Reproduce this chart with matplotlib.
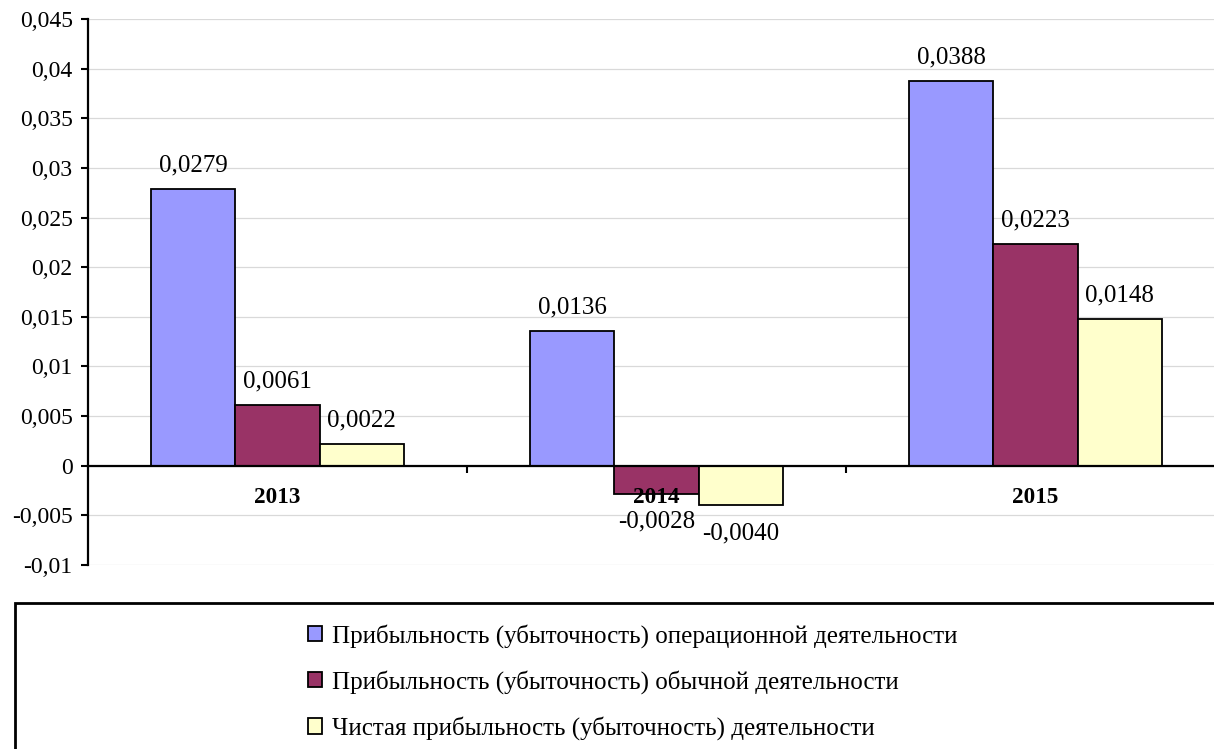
import numpy as np
import matplotlib
matplotlib.use("Agg")
import matplotlib.pyplot as plt
from matplotlib.patches import Rectangle
from matplotlib.ticker import MultipleLocator, FixedLocator, FuncFormatter

plt.rcParams["font.family"] = "Liberation Serif"

# Data
years = ["2013", "2014", "2015"]
series_names = [
    "Прибыльность (убыточность) операционной деятельности",
    "Прибыльность (убыточность) обычной деятельности",
    "Чистая прибыльность (убыточность) деятельности",
]
operational = [0.0279, 0.0136, 0.0388]
ordinary = [0.0061, -0.0028, 0.0223]
net = [0.0022, -0.0040, 0.0148]
colors = ["#9999FF", "#993366", "#FFFFCC"]

W, H = 1214, 749
fig = plt.figure(figsize=(W / 100, H / 100), dpi=100)

# axes placed in pixel terms (right edge runs slightly past the image)
ax = fig.add_axes([88 / W, 1 - 565 / H, (1225 - 88) / W, (565 - 19) / H])

x = np.arange(len(years))
bw = 0.222
for i, (vals, name, col) in enumerate(zip([operational, ordinary, net], series_names, colors)):
    pos = x + (i - 1) * bw
    bars = ax.bar(pos, vals, width=bw, color=col, edgecolor="black",
                  linewidth=1.3, label=name, zorder=2)
    for b, v in zip(bars, vals):
        txt = f"{v:.4f}".replace(".", ",")
        if v >= 0:
            ax.annotate(txt, (b.get_x() + b.get_width() / 2, v), xytext=(0, 9),
                        textcoords="offset points", ha="center", va="bottom",
                        fontsize=18)
        else:
            ax.annotate(txt, (b.get_x() + b.get_width() / 2, v), xytext=(0, -12),
                        textcoords="offset points", ha="center", va="top",
                        fontsize=18)

ax.set_xlim(-0.5, 2.5)
ax.set_ylim(-0.01, 0.045)
ax.yaxis.set_major_locator(MultipleLocator(0.005))
ax.yaxis.set_major_formatter(FuncFormatter(
    lambda v, p: "0" if abs(v) < 1e-12 else f"{v:.3f}".rstrip("0").replace(".", ",")))
ax.set_axisbelow(True)
ax.grid(axis="y", color="#D9D9D9", linewidth=0.9)
# category labels sit on top of the bars (2014 overlaps the negative bar)
ax.xaxis.set_zorder(5)

ax.spines["top"].set_visible(False)
ax.spines["right"].set_visible(False)
ax.spines["left"].set_linewidth(1.6)
ax.spines["bottom"].set_position(("data", 0))
ax.spines["bottom"].set_linewidth(1.6)
ax.spines["bottom"].set_zorder(4)

ax.set_xticks(x)
ax.set_xticklabels(years, fontweight="bold", fontsize=16.7)
ax.xaxis.set_minor_locator(FixedLocator([0.5, 1.5, 2.5]))
ax.tick_params(axis="x", which="major", length=0, pad=15)
ax.tick_params(axis="x", which="minor", length=5, width=1.5, direction="out")
ax.tick_params(axis="y", length=5, width=1.5, direction="out", pad=6, labelsize=17)

# legend box, running off the right and bottom edges like the source
fig.patches.append(Rectangle((15 / W, -0.2), 1.3, 1 - 603 / H + 0.2,
                             transform=fig.transFigure, facecolor="white",
                             edgecolor="black", linewidth=2, zorder=0))

handles, labels = ax.get_legend_handles_labels()
fig.legend(handles, labels, loc="upper left", bbox_to_anchor=(308 / W, 1 - 624 / H),
           frameon=False, fontsize=18, handlelength=0.55, handleheight=0.55,
           handletextpad=0.4, labelspacing=0.89, borderaxespad=0, borderpad=0)

fig.savefig("out.png", dpi=100)
